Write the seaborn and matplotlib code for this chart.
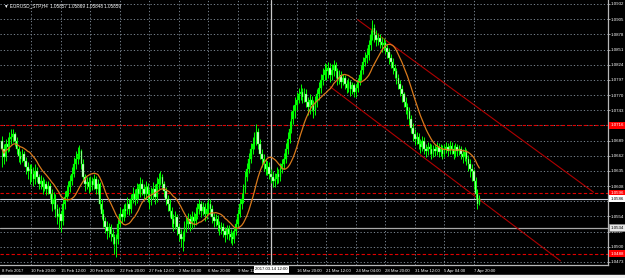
import numpy as np
import pandas as pd
import matplotlib
matplotlib.use("Agg")
import matplotlib.pyplot as plt
from matplotlib.patches import Rectangle
from matplotlib.transforms import blended_transform_factory
import seaborn as sns

# ---------------- data (EURUSD H4) ----------------
first_open = 1.0688
close = [
    1.0674, 1.0659, 1.0682, 1.0677, 1.0691, 1.0695, 1.0700, 1.0688, 1.0674, 1.0661, 1.0656, 1.0665, 1.0652, 1.0642, 1.0635, 1.0638,
    1.0629, 1.0620, 1.0635, 1.0624, 1.0612, 1.0617, 1.0606, 1.0612, 1.0603, 1.0608, 1.0594, 1.0576, 1.0585, 1.0567, 1.0553, 1.0558,
    1.0546, 1.0576, 1.0589, 1.0599, 1.0606, 1.0617, 1.0629, 1.0647, 1.0656, 1.0665, 1.0670, 1.0647, 1.0624, 1.0612, 1.0615, 1.0606,
    1.0617, 1.0610, 1.0620, 1.0603, 1.0612, 1.0576, 1.0558, 1.0546, 1.0535, 1.0528, 1.0535, 1.0523, 1.0518, 1.0505, 1.0514, 1.0541,
    1.0558, 1.0553, 1.0567, 1.0564, 1.0576, 1.0567, 1.0585, 1.0594, 1.0585, 1.0603, 1.0594, 1.0612, 1.0603, 1.0594, 1.0606, 1.0594,
    1.0585, 1.0594, 1.0603, 1.0589, 1.0612, 1.0620, 1.0624, 1.0612, 1.0599, 1.0585, 1.0576, 1.0564, 1.0550, 1.0541, 1.0553, 1.0535,
    1.0523, 1.0514, 1.0518, 1.0535, 1.0541, 1.0550, 1.0541, 1.0553, 1.0546, 1.0558, 1.0567, 1.0576, 1.0564, 1.0571, 1.0558, 1.0567,
    1.0576, 1.0567, 1.0553, 1.0546, 1.0550, 1.0539, 1.0532, 1.0535, 1.0528, 1.0521, 1.0532, 1.0523, 1.0518, 1.0514, 1.0528, 1.0541,
    1.0558, 1.0576, 1.0585, 1.0603, 1.0624, 1.0638, 1.0656, 1.0674, 1.0682, 1.0691, 1.0705, 1.0682, 1.0665, 1.0656, 1.0647, 1.0638,
    1.0642, 1.0629, 1.0624, 1.0617, 1.0620, 1.0629, 1.0624, 1.0638, 1.0647, 1.0656, 1.0674, 1.0691, 1.0709, 1.0727, 1.0741, 1.0753,
    1.0762, 1.0771, 1.0776, 1.0766, 1.0771, 1.0758, 1.0748, 1.0762, 1.0753, 1.0744, 1.0758, 1.0771, 1.0783, 1.0797, 1.0806, 1.0815,
    1.0812, 1.0819, 1.0806, 1.0815, 1.0824, 1.0812, 1.0797, 1.0806, 1.0794, 1.0801, 1.0789, 1.0783, 1.0794, 1.0780, 1.0787, 1.0776,
    1.0783, 1.0794, 1.0806, 1.0815, 1.0829, 1.0836, 1.0842, 1.0859, 1.0877, 1.0889, 1.0877, 1.0868, 1.0872, 1.0865, 1.0859, 1.0863,
    1.0854, 1.0847, 1.0836, 1.0829, 1.0819, 1.0812, 1.0801, 1.0789, 1.0780, 1.0771, 1.0758, 1.0748, 1.0741, 1.0727, 1.0712, 1.0700,
    1.0691, 1.0695, 1.0682, 1.0677, 1.0688, 1.0674, 1.0670, 1.0677, 1.0674, 1.0665, 1.0674, 1.0670, 1.0677, 1.0668, 1.0674, 1.0665,
    1.0674, 1.0677, 1.0670, 1.0679, 1.0674, 1.0665, 1.0677, 1.0670, 1.0674, 1.0665, 1.0659, 1.0668, 1.0656, 1.0647, 1.0638, 1.0635,
    1.0617, 1.0594, 1.0576, 1.0586,
]
high = [
    1.0697, 1.0682, 1.0691, 1.0695, 1.0704, 1.0709, 1.0709, 1.0705, 1.0695, 1.0679, 1.0670, 1.0674, 1.0670, 1.0659, 1.0650, 1.0647,
    1.0647, 1.0642, 1.0647, 1.0642, 1.0629, 1.0627, 1.0624, 1.0620, 1.0617, 1.0617, 1.0613, 1.0603, 1.0597, 1.0594, 1.0576, 1.0571,
    1.0564, 1.0585, 1.0599, 1.0610, 1.0617, 1.0627, 1.0642, 1.0659, 1.0670, 1.0677, 1.0681, 1.0674, 1.0656, 1.0629, 1.0624, 1.0624,
    1.0626, 1.0624, 1.0629, 1.0626, 1.0620, 1.0615, 1.0585, 1.0567, 1.0553, 1.0546, 1.0543, 1.0541, 1.0532, 1.0523, 1.0523, 1.0550,
    1.0571, 1.0567, 1.0576, 1.0578, 1.0589, 1.0585, 1.0594, 1.0606, 1.0603, 1.0613, 1.0612, 1.0624, 1.0620, 1.0612, 1.0617, 1.0613,
    1.0603, 1.0606, 1.0615, 1.0612, 1.0624, 1.0631, 1.0635, 1.0629, 1.0617, 1.0606, 1.0592, 1.0585, 1.0571, 1.0558, 1.0564, 1.0558,
    1.0543, 1.0532, 1.0528, 1.0546, 1.0553, 1.0560, 1.0558, 1.0564, 1.0562, 1.0571, 1.0578, 1.0585, 1.0581, 1.0580, 1.0578, 1.0580,
    1.0585, 1.0585, 1.0574, 1.0560, 1.0558, 1.0557, 1.0546, 1.0544, 1.0543, 1.0535, 1.0539, 1.0539, 1.0532, 1.0527, 1.0535, 1.0550,
    1.0567, 1.0585, 1.0596, 1.0612, 1.0635, 1.0649, 1.0666, 1.0684, 1.0695, 1.0704, 1.0718, 1.0712, 1.0691, 1.0674, 1.0665, 1.0656,
    1.0652, 1.0650, 1.0638, 1.0635, 1.0631, 1.0642, 1.0638, 1.0649, 1.0656, 1.0666, 1.0684, 1.0704, 1.0723, 1.0741, 1.0753, 1.0766,
    1.0776, 1.0783, 1.0789, 1.0783, 1.0783, 1.0780, 1.0766, 1.0771, 1.0769, 1.0762, 1.0769, 1.0780, 1.0794, 1.0808, 1.0819, 1.0827,
    1.0826, 1.0829, 1.0827, 1.0826, 1.0833, 1.0829, 1.0819, 1.0815, 1.0812, 1.0808, 1.0806, 1.0797, 1.0801, 1.0797, 1.0794, 1.0792,
    1.0790, 1.0801, 1.0815, 1.0824, 1.0838, 1.0847, 1.0854, 1.0868, 1.0886, 1.0904, 1.0897, 1.0886, 1.0881, 1.0879, 1.0874, 1.0872,
    1.0868, 1.0861, 1.0854, 1.0843, 1.0836, 1.0826, 1.0819, 1.0808, 1.0797, 1.0787, 1.0776, 1.0766, 1.0755, 1.0748, 1.0734, 1.0720,
    1.0709, 1.0705, 1.0702, 1.0691, 1.0697, 1.0695, 1.0682, 1.0686, 1.0684, 1.0682, 1.0681, 1.0682, 1.0686, 1.0684, 1.0682, 1.0681,
    1.0682, 1.0686, 1.0684, 1.0688, 1.0686, 1.0681, 1.0684, 1.0682, 1.0681, 1.0679, 1.0674, 1.0677, 1.0674, 1.0663, 1.0656, 1.0647,
    1.0638, 1.0624, 1.0603, 1.0592,
]
low = [
    1.0642, 1.0647, 1.0652, 1.0668, 1.0670, 1.0682, 1.0686, 1.0679, 1.0665, 1.0650, 1.0647, 1.0650, 1.0643, 1.0629, 1.0620, 1.0612,
    1.0617, 1.0608, 1.0612, 1.0615, 1.0603, 1.0603, 1.0594, 1.0599, 1.0592, 1.0594, 1.0585, 1.0564, 1.0567, 1.0553, 1.0541, 1.0532,
    1.0527, 1.0539, 1.0567, 1.0581, 1.0590, 1.0597, 1.0610, 1.0624, 1.0638, 1.0647, 1.0656, 1.0638, 1.0617, 1.0599, 1.0603, 1.0596,
    1.0599, 1.0601, 1.0603, 1.0594, 1.0594, 1.0567, 1.0550, 1.0535, 1.0525, 1.0514, 1.0518, 1.0511, 1.0505, 1.0488, 1.0482, 1.0505,
    1.0535, 1.0543, 1.0546, 1.0553, 1.0558, 1.0557, 1.0560, 1.0578, 1.0574, 1.0578, 1.0585, 1.0589, 1.0592, 1.0585, 1.0585, 1.0580,
    1.0567, 1.0574, 1.0585, 1.0576, 1.0580, 1.0603, 1.0610, 1.0603, 1.0589, 1.0574, 1.0564, 1.0553, 1.0535, 1.0528, 1.0532, 1.0521,
    1.0511, 1.0500, 1.0493, 1.0511, 1.0527, 1.0532, 1.0528, 1.0532, 1.0535, 1.0539, 1.0550, 1.0558, 1.0553, 1.0557, 1.0546, 1.0550,
    1.0558, 1.0557, 1.0543, 1.0535, 1.0537, 1.0528, 1.0521, 1.0523, 1.0518, 1.0509, 1.0514, 1.0512, 1.0507, 1.0504, 1.0507, 1.0521,
    1.0535, 1.0553, 1.0567, 1.0578, 1.0596, 1.0617, 1.0631, 1.0649, 1.0665, 1.0674, 1.0681, 1.0674, 1.0656, 1.0642, 1.0635, 1.0627,
    1.0627, 1.0620, 1.0613, 1.0606, 1.0606, 1.0612, 1.0613, 1.0617, 1.0631, 1.0638, 1.0649, 1.0665, 1.0684, 1.0702, 1.0718, 1.0730,
    1.0744, 1.0755, 1.0762, 1.0755, 1.0758, 1.0748, 1.0734, 1.0737, 1.0741, 1.0730, 1.0735, 1.0748, 1.0762, 1.0774, 1.0787, 1.0797,
    1.0797, 1.0801, 1.0794, 1.0797, 1.0804, 1.0801, 1.0787, 1.0790, 1.0783, 1.0787, 1.0780, 1.0773, 1.0776, 1.0769, 1.0771, 1.0766,
    1.0767, 1.0776, 1.0787, 1.0797, 1.0808, 1.0822, 1.0827, 1.0833, 1.0851, 1.0868, 1.0865, 1.0858, 1.0859, 1.0854, 1.0847, 1.0851,
    1.0843, 1.0836, 1.0826, 1.0819, 1.0808, 1.0801, 1.0790, 1.0780, 1.0769, 1.0758, 1.0748, 1.0737, 1.0727, 1.0716, 1.0702, 1.0688,
    1.0681, 1.0682, 1.0674, 1.0666, 1.0670, 1.0665, 1.0659, 1.0663, 1.0665, 1.0656, 1.0659, 1.0661, 1.0663, 1.0659, 1.0661, 1.0656,
    1.0659, 1.0666, 1.0661, 1.0665, 1.0665, 1.0656, 1.0659, 1.0661, 1.0663, 1.0656, 1.0649, 1.0652, 1.0645, 1.0635, 1.0624, 1.0617,
    1.0603, 1.0585, 1.0567, 1.0574,
]
# labels of the time axis ("" where the crosshair box hides the label)
time_labels = ["8 Feb 2017", "10 Feb 20:00", "15 Feb 12:00", "20 Feb 04:00", "22 Feb 20:00",
               "27 Feb 12:00", "2 Mar 04:00", "6 Mar 20:00", "9 Mar 12:00", "",
               "16 Mar 20:00", "21 Mar 12:00", "24 Mar 04:00", "28 Mar 20:00", "31 Mar 12:00",
               "5 Apr 04:00", "7 Apr 20:00"]
bars_per_label = 16
price_ticks = [1.0932, 1.0905, 1.0878, 1.0851, 1.0824, 1.0797, 1.0770, 1.0743, 1.0716,
               1.0689, 1.0662, 1.0635, 1.0608, 1.0581, 1.0554, 1.0527, 1.0500, 1.0473]
hidden_price_ticks = [1.0716, 1.0581]   # covered by the level / bid boxes
red_levels = [1.0716, 1.0596, 1.0488]
bid_price = 1.05859
cross_price = 1.0534
cross_bar = 146
cross_time = "2017.03.14 12:00"
upper_channel_bars = [193, 321]
upper_channel_prices = [1.0904, 1.0597]
lower_channel_bars = [178, 303]
lower_channel_prices = [1.0785, 1.0475]
ma_period = 14
header = "\u25bc EURUSD_STP,H4  1.05857 1.05869 1.05848 1.05859"

# ---------------- frame ----------------
df = pd.DataFrame({"bar": np.arange(len(close)), "close": close, "high": high, "low": low})
df["open"] = [first_open] + close[:-1]
df["ma"] = df["close"].rolling(ma_period, min_periods=1).mean()

sns.set_theme(style="dark", rc={"axes.facecolor": "black", "figure.facecolor": "black"})
plt.rcParams["font.family"] = ["Liberation Sans", "DejaVu Sans"]
FS = 3.2
FSX = 3.1

W, H = 625, 278
fig = plt.figure(figsize=(W / 100, H / 100), dpi=100, facecolor="black")
ax = fig.add_axes([0, 13 / H, 608 / W, 265 / H])
ax.set_facecolor("black")
px_per_bar = 1.843
ax.set_xlim(-2 / px_per_bar, 606 / px_per_bar)
ax.set_ylim(1.04676, 1.09391)

grid_kw = dict(color="#8a96a3", lw=0.6, ls=(0, (1.5, 2.5)), zorder=1)
for p in price_ticks:
    ax.axhline(p, **grid_kw)
label_pos = np.arange(len(time_labels)) * bars_per_label
for b in label_pos[1:]:
    ax.axvline(b, **grid_kw)

# horizontal levels
for lv in red_levels:
    ax.axhline(lv, color="#e00000", lw=0.8, ls=(0, (3, 2)), zorder=2)
ax.axhline(bid_price, color="#c8d0dc", lw=0.8, zorder=2)
ax.axhline(cross_price, color="#a8a8a8", lw=0.9, zorder=2)
ax.axvline(cross_bar, color="#c8c8c8", lw=0.9, zorder=2)

# channel
ax.plot(upper_channel_bars, upper_channel_prices, color="#b00000", lw=0.8, zorder=2)
ax.plot(lower_channel_bars, lower_channel_prices, color="#b00000", lw=0.8, zorder=2)

# candles
ax.vlines(df["bar"], df["low"], df["high"], color="#00ff00", lw=0.7, zorder=3)
up = df["close"] >= df["open"]
dn = ~up
ax.bar(df["bar"][up], (df["close"] - df["open"])[up].clip(lower=0.00005), bottom=df["open"][up],
       width=0.8, color="#00ff00", edgecolor="#00ff00", lw=0.2, zorder=4)
ax.bar(df["bar"][dn], (df["open"] - df["close"])[dn].clip(lower=0.00005), bottom=df["close"][dn],
       width=0.8, color="#e8ffe8", edgecolor="#00ff00", lw=0.3, zorder=4)

# moving average
sns.lineplot(data=df, x="bar", y="ma", color="#d97a1c", lw=0.9, ax=ax, zorder=5)

# axes styling
for s in ["left", "top"]:
    ax.spines[s].set_visible(False)
for s in ["right", "bottom"]:
    ax.spines[s].set_color("#b8b8b8")
    ax.spines[s].set_linewidth(0.9)
ax.yaxis.tick_right()
ax.set_yticks(price_ticks, ["" if p in hidden_price_ticks else f"{p:.4f}" for p in price_ticks])
ax.set_xticks(label_pos, time_labels)
for t in ax.get_xticklabels():
    t.set_ha("left")
ax.tick_params(axis="both", colors="#b8b8b8", labelcolor="white", width=0.6)
ax.tick_params(axis="y", labelsize=FS, length=1.5, pad=0.4)
ax.tick_params(axis="x", labelsize=FSX, length=2, pad=1.2)
ax.set_xlabel("")
ax.set_ylabel("")

# price label boxes
tr_y = blended_transform_factory(ax.transAxes, ax.transData)
box_x = 1.0 + 2.5 / 608
box_kw = dict(transform=tr_y, ha="left", va="center", fontsize=FS, clip_on=False, zorder=10)
for lv in red_levels:
    ax.text(box_x, lv, f"{lv:.4f}", color="white",
            bbox=dict(boxstyle="square,pad=0.3", fc="#ff0000", ec="none"), **box_kw)
ax.text(box_x, bid_price, f"{bid_price:.4f}", color="black",
        bbox=dict(boxstyle="square,pad=0.3", fc="white", ec="none"), **box_kw)
ax.text(box_x, cross_price, f"{cross_price:.4f}", color="black",
        bbox=dict(boxstyle="square,pad=0.3", fc="#e8e8e8", ec="#909090", lw=0.5), **box_kw)

# crosshair time box
tr_x = blended_transform_factory(ax.transData, ax.transAxes)
ax.text(cross_bar, -4.5 / 265, cross_time, transform=tr_x, ha="center", va="center", fontsize=FSX,
        color="black", clip_on=False, zorder=10,
        bbox=dict(boxstyle="square,pad=0.3", fc="white", ec="none"))

# header
fig.text(4 / W, 1 - 6 / H, header, fontsize=3.3, color="white", va="center", ha="left")

# bottom tab strip
fig.patches.append(Rectangle((0, 0), 1, 3 / H, transform=fig.transFigure, color="#eeeeee", zorder=0))

fig.savefig("out.png", dpi=100, facecolor="black")
